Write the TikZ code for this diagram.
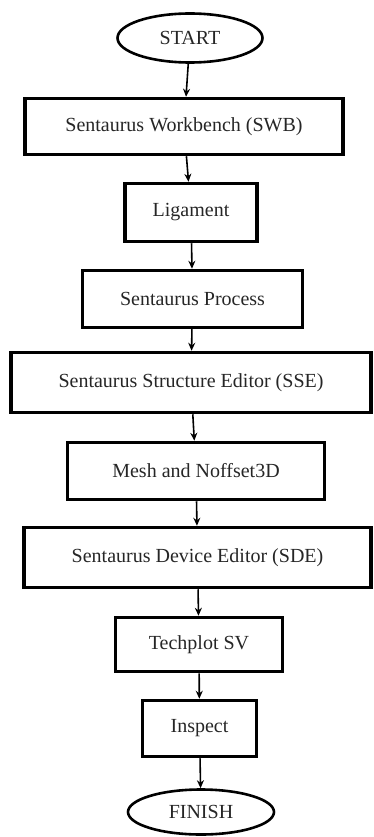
\documentclass[tikz,border=0pt]{standalone}
\usepackage{fontspec}
\setmainfont{Liberation Serif}[Scale=1.0]
\usetikzlibrary{arrows.meta,shapes.geometric}
\begin{document}
\begin{tikzpicture}[x=1pt,y=-1pt,
  every node/.style={font=\rmfamily\fontsize{20}{22}\selectfont, text=black!85},
  procbox/.style={draw, rectangle, line width=3.5pt, inner sep=0pt},
  term/.style={draw, ellipse, line width=2.6pt, inner sep=0pt},
  flow/.style={line width=1.6pt, -{Stealth[length=8pt,width=7pt]}}]
\useasboundingbox (0,0) rectangle (373,837);
\node[term, minimum width=145pt, minimum height=49pt] (start) at (190,38) {START};
\node[procbox, minimum width=318pt, minimum height=56pt] (swb) at (184,126.5) {Sentaurus Workbench (SWB)};
\node[procbox, minimum width=132pt, minimum height=58pt] (lig) at (191,212.5) {Ligament};
\node[procbox, minimum width=220pt, minimum height=57pt] (proc) at (192.5,299) {Sentaurus Process};
\node[procbox, minimum width=360pt, minimum height=60pt] (sse) at (191,382.5) {Sentaurus Structure Editor (SSE)};
\node[procbox, minimum width=257pt, minimum height=57pt] (mesh) at (196,471) {Mesh and Noffset3D};
\node[procbox, minimum width=347pt, minimum height=60pt] (sde) at (197.5,557.5) {Sentaurus Device Editor (SDE)};
\node[procbox, minimum width=167pt, minimum height=54pt] (tec) at (199,644.5) {Techplot SV};
\node[procbox, minimum width=114pt, minimum height=56pt] (insp) at (199.5,728.5) {Inspect};
\node[term, minimum width=146pt, minimum height=45pt] (fin) at (201,812) {FINISH};
\draw[flow] (start) -- (swb);
\draw[flow] (swb) -- (lig);
\draw[flow] (lig) -- (proc);
\draw[flow] (proc) -- (sse);
\draw[flow] (sse) -- (mesh);
\draw[flow] (mesh) -- (sde);
\draw[flow] (sde) -- (tec);
\draw[flow] (tec) -- (insp);
\draw[flow] (insp) -- (fin);
\end{tikzpicture}
\end{document}
